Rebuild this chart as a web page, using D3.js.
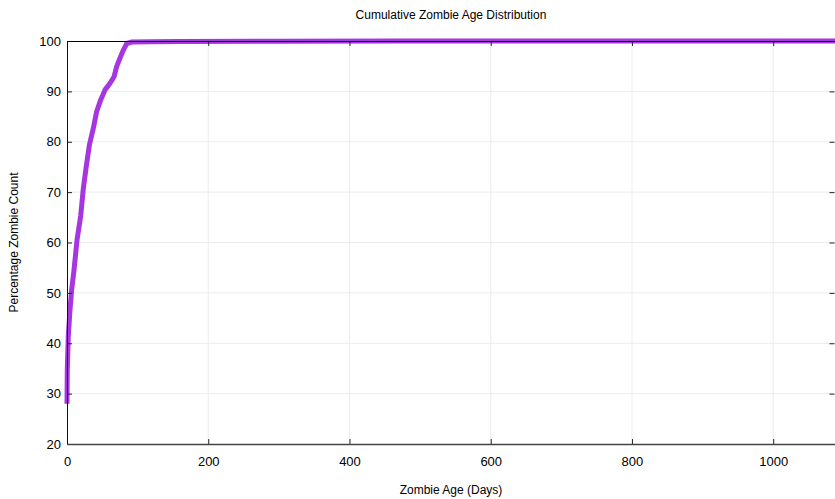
<!DOCTYPE html>
<html>
<head>
<meta charset="utf-8">
<script src="https://cdn.jsdelivr.net/npm/d3@7"></script>
<style>
  html, body { margin: 0; padding: 0; background: #fff; }
  svg { display: block; font-family: "Liberation Sans", Arial, Helvetica, sans-serif; }
</style>
</head>
<body>
<svg id="chart" width="835" height="499"></svg>
<script>
// Cumulative share of zombies (%) by age in days
const ageDays = [0, 0.4, 1.8, 4.2, 6.6, 9.9, 14.2, 19.4, 23.1, 26.9, 31.6, 37.3, 42, 47.7, 53.8, 60.9, 66.6, 70.3, 75, 79.8, 84.5, 92, 120, 160, 300, 470, 1090];
const cumulativePct = [28, 34.7, 41.3, 46.6, 50.6, 54.5, 60.5, 65.3, 70.7, 74.7, 79.3, 82.7, 86, 88.3, 90.3, 91.6, 92.9, 94.9, 96.6, 98.2, 99.5, 99.8, 99.85, 99.9, 99.95, 100, 100];

const xTicks = [0, 200, 400, 600, 800, 1000];
const yTicks = [20, 30, 40, 50, 60, 70, 80, 90, 100];

const titleText = "Cumulative Zombie Age Distribution";
const xLabel = "Zombie Age (Days)";
const yLabel = "Percentage Zombie Count";

const svg = d3.select("#chart");
const plotL = 67, plotR = 835, plotT = 41, plotB = 444;

const x = d3.scaleLinear().domain([0, 1087.5]).range([plotL, plotR]);
const y = d3.scaleLinear().domain([20, 100]).range([plotB, plotT]);

// grid
const grid = svg.append("g");
grid.selectAll(".gx").data(xTicks.slice(1)).join("line")
  .attr("x1", d => x(d)).attr("x2", d => x(d))
  .attr("y1", plotT).attr("y2", plotB)
  .attr("stroke", "#ececec").attr("stroke-width", 1);
grid.selectAll(".gy").data(yTicks.slice(1, -1)).join("line")
  .attr("x1", plotL).attr("x2", plotR)
  .attr("y1", d => y(d)).attr("y2", d => y(d))
  .attr("stroke", "#ececec").attr("stroke-width", 1);

// curve
const data = ageDays.map((d, i) => [d, cumulativePct[i]]);
svg.append("path")
  .datum(data)
  .attr("fill", "none")
  .attr("stroke", "#a636df")
  .attr("stroke-width", 5)
  .attr("stroke-linejoin", "round")
  .attr("d", d3.line().x(d => x(d[0])).y(d => y(d[1])));

// axes (ticks drawn inward)
const fmt = d3.format("d");
const axB = svg.append("g").attr("transform", `translate(0,${plotB})`)
  .call(d3.axisBottom(x).tickValues(xTicks).tickFormat(fmt).tickSize(-5).tickPadding(13));
const axL = svg.append("g").attr("transform", `translate(${plotL},0)`)
  .call(d3.axisLeft(y).tickValues(yTicks).tickFormat(fmt).tickSize(-5).tickPadding(6));
const axT = svg.append("g").attr("transform", `translate(0,${plotT})`)
  .call(d3.axisTop(x).tickValues(xTicks).tickFormat("").tickSize(-5));
const axR = svg.append("g").attr("transform", `translate(${plotR - 0.5},0)`)
  .call(d3.axisRight(y).tickValues(yTicks).tickFormat("").tickSize(-5));

[axB, axL, axT, axR].forEach(g => {
  g.select(".domain").remove();
  g.selectAll(".tick line").attr("stroke", "#222");
  g.selectAll(".tick text").attr("fill", "#000").style("font-size", "13px")
    .style("font-family", "'Liberation Sans', Arial, Helvetica, sans-serif");
});

// frame
svg.append("line").attr("x1", plotL).attr("x2", plotR).attr("y1", plotT + 0.5).attr("y2", plotT + 0.5)
  .attr("stroke", "#000").attr("stroke-width", 1);
svg.append("line").attr("x1", plotL + 0.5).attr("x2", plotL + 0.5).attr("y1", plotT).attr("y2", plotB)
  .attr("stroke", "#111").attr("stroke-width", 1);
svg.append("line").attr("x1", plotL).attr("x2", plotR).attr("y1", plotB + 0.5).attr("y2", plotB + 0.5)
  .attr("stroke", "#444").attr("stroke-width", 1.6);

// titles
svg.append("text").attr("x", (plotL + plotR) / 2).attr("y", 19)
  .attr("text-anchor", "middle").style("font-size", "12px").attr("fill", "#000")
  .text(titleText);
svg.append("text").attr("x", (plotL + plotR) / 2).attr("y", 494)
  .attr("text-anchor", "middle").style("font-size", "12px").attr("fill", "#000")
  .text(xLabel);
svg.append("text")
  .attr("transform", `translate(18,${(plotT + plotB) / 2}) rotate(-90)`)
  .attr("text-anchor", "middle").style("font-size", "12px").attr("fill", "#000")
  .text(yLabel);
</script>
</body>
</html>
